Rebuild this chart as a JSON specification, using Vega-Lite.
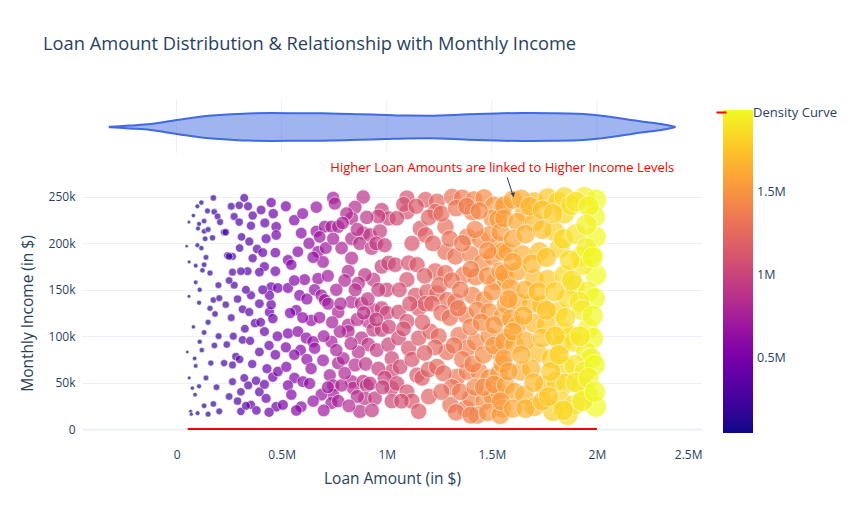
{
  "$schema": "https://vega.github.io/schema/vega-lite/v6.json",
  "width": 620,
  "height": 340,
  "autosize": {"type": "none"},
  "padding": {"left": 82, "top": 100, "right": 153, "bottom": 85},
  "background": "white",
  "title": {
    "text": "Loan Amount Distribution & Relationship with Monthly Income",
    "anchor": "start",
    "frame": "group",
    "dx": -39,
    "offset": 45,
    "fontSize": 18.3,
    "fontWeight": "normal",
    "color": "#2a3f5f"
  },
  "config": {
    "font": "Open Sans",
    "view": {"stroke": null},
    "axis": {
      "labelColor": "#2a3f5f",
      "titleColor": "#2a3f5f",
      "labelFontSize": 12,
      "titleFontSize": 15.5,
      "titleFontWeight": "normal",
      "ticks": false,
      "domain": false
    },
    "axisX": {"grid": false}
  },
  "datasets": {
    "violin": [
      {"loan": -318000, "hi": 0.3, "lo": -0.3},
      {"loan": -270000, "hi": 0.8, "lo": -0.8},
      {"loan": -220000, "hi": 1.5, "lo": -1.5},
      {"loan": -124000, "hi": 3, "lo": -3},
      {"loan": -57000, "hi": 5, "lo": -5},
      {"loan": 0, "hi": 7, "lo": -7},
      {"loan": 67000, "hi": 9, "lo": -9},
      {"loan": 130000, "hi": 10.8, "lo": -10.8},
      {"loan": 206000, "hi": 12, "lo": -12},
      {"loan": 340000, "hi": 13.6, "lo": -13.6},
      {"loan": 450000, "hi": 13.9, "lo": -13.9},
      {"loan": 545000, "hi": 13.8, "lo": -13.8},
      {"loan": 732000, "hi": 13.6, "lo": -13.6},
      {"loan": 870000, "hi": 12.8, "lo": -12.8},
      {"loan": 995000, "hi": 12, "lo": -12},
      {"loan": 1100000, "hi": 11.4, "lo": -11.4},
      {"loan": 1200000, "hi": 11.3, "lo": -11.3},
      {"loan": 1388000, "hi": 12.7, "lo": -12.7},
      {"loan": 1520000, "hi": 13.6, "lo": -13.6},
      {"loan": 1646000, "hi": 14, "lo": -14},
      {"loan": 1780000, "hi": 13.8, "lo": -13.8},
      {"loan": 1909000, "hi": 13.3, "lo": -13.3},
      {"loan": 2043000, "hi": 10.7, "lo": -10.7},
      {"loan": 2110000, "hi": 8.8, "lo": -8.8},
      {"loan": 2172000, "hi": 6.7, "lo": -6.7},
      {"loan": 2240000, "hi": 4.8, "lo": -4.8},
      {"loan": 2306000, "hi": 3, "lo": -3},
      {"loan": 2370000, "hi": 0.3, "lo": -0.3}
    ],
    "vgrid": [
      {"loan": 0}, {"loan": 500000}, {"loan": 1000000}, {"loan": 1500000}, {"loan": 2000000}
    ],
    "curve": [
      {"loan": 53000, "income": 0},
      {"loan": 2000000, "income": 0}
    ],
    "note": [
      {"loan": 1550000, "income": 281000, "label": "Higher Loan Amounts are linked to Higher Income Levels"}
    ],
    "arrow": [
      {"loan": 1573000, "income": 271000, "loan2": 1603000, "income2": 250000}
    ],
    "arrowhead": [
      {"loan": 1602000, "income": 252500}
    ],
    "points": [
      {"loan":175000,"income":249000},{"loan":118000,"income":244000},{"loan":99000,"income":240000},{"loan":147000,"income":235000},{"loan":179000,"income":234000},{"loan":195000,"income":229000},{"loan":59000,"income":223000},{"loan":107000,"income":221000},{"loan":131000,"income":224000},{"loan":207000,"income":223000},{"loan":102000,"income":216000},{"loan":131000,"income":213000},{"loan":226000,"income":212000},{"loan":136000,"income":205000},{"loan":171000,"income":206000},{"loan":48000,"income":197000},{"loan":99000,"income":198000},{"loan":118000,"income":195000},{"loan":91000,"income":176000},{"loan":131000,"income":177000},{"loan":123000,"income":171000},{"loan":159000,"income":168000},{"loan":91000,"income":158000},{"loan":199000,"income":155000},{"loan":59000,"income":143000},{"loan":107000,"income":136000},{"loan":175000,"income":139000},{"loan":203000,"income":141000},{"loan":159000,"income":130000},{"loan":183000,"income":124000},{"loan":234000,"income":134000},{"loan":131000,"income":104000},{"loan":110000,"income":94000},{"loan":51000,"income":83000},{"loan":86000,"income":76000},{"loan":163000,"income":71000},{"loan":91000,"income":68000},{"loan":226000,"income":71000},{"loan":266000,"income":69000},{"loan":282000,"income":78000},{"loan":239000,"income":91000},{"loan":75000,"income":44000},{"loan":107000,"income":46000},{"loan":88000,"income":37000},{"loan":131000,"income":25000},{"loan":175000,"income":27000},{"loan":203000,"income":19000},{"loan":67000,"income":19000},{"loan":70000,"income":16000},
      {"loan":80000,"income":230000},{"loan":150000,"income":215000},{"loan":60000,"income":180000},{"loan":140000,"income":185000},{"loan":110000,"income":150000},{"loan":150000,"income":115000},{"loan":80000,"income":110000},{"loan":200000,"income":100000},{"loan":120000,"income":85000},{"loan":180000,"income":90000},{"loan":140000,"income":55000},{"loan":60000,"income":55000},{"loan":190000,"income":45000},{"loan":100000,"income":17000},{"loan":150000,"income":16000},
      {"loan":322000,"income":249000},{"loan":298000,"income":241000},{"loan":450000,"income":244000},{"loan":402000,"income":236000},{"loan":362000,"income":230000},{"loan":274000,"income":229000},{"loan":298000,"income":223000},{"loan":354000,"income":219000},{"loan":474000,"income":218000},{"loan":234000,"income":212000},{"loan":309000,"income":207000},{"loan":346000,"income":202000},{"loan":426000,"income":205000},{"loan":474000,"income":209000},{"loan":383000,"income":194000},{"loan":242000,"income":187000},{"loan":266000,"income":186000},{"loan":362000,"income":184000},{"loan":418000,"income":175000},{"loan":394000,"income":169000},{"loan":338000,"income":170000},{"loan":306000,"income":170000},{"loan":266000,"income":169000},{"loan":274000,"income":155000},{"loan":450000,"income":153000},{"loan":482000,"income":152000},{"loan":354000,"income":144000},{"loan":394000,"income":135000},{"loan":314000,"income":129000},{"loan":346000,"income":126000},{"loan":442000,"income":126000},{"loan":458000,"income":119000},{"loan":373000,"income":114000},{"loan":325000,"income":108000},{"loan":418000,"income":105000},{"loan":314000,"income":96000},{"loan":394000,"income":83000},{"loan":266000,"income":51000},{"loan":322000,"income":55000},{"loan":378000,"income":52000},{"loan":341000,"income":47000},{"loan":306000,"income":40000},{"loan":394000,"income":40000},{"loan":426000,"income":33000},{"loan":354000,"income":26000},{"loan":306000,"income":19000},{"loan":474000,"income":24000},{"loan":458000,"income":56000},{"loan":482000,"income":62000},{"loan":418000,"income":48000},{"loan":450000,"income":134000},{"loan":442000,"income":144000},{"loan":250000,"income":186000},
      {"loan":260000,"income":240000},{"loan":340000,"income":240000},{"loan":420000,"income":222000},{"loan":460000,"income":232000},{"loan":300000,"income":195000},{"loan":410000,"income":190000},{"loan":470000,"income":190000},{"loan":250000,"income":160000},{"loan":330000,"income":150000},{"loan":410000,"income":150000},{"loan":470000,"income":170000},{"loan":260000,"income":120000},{"loan":290000,"income":140000},{"loan":400000,"income":115000},{"loan":480000,"income":100000},{"loan":270000,"income":100000},{"loan":350000,"income":95000},{"loan":440000,"income":90000},{"loan":300000,"income":75000},{"loan":360000,"income":70000},{"loan":430000,"income":65000},{"loan":470000,"income":80000},{"loan":290000,"income":30000},{"loan":380000,"income":20000},{"loan":440000,"income":18000},{"loan":250000,"income":35000},{"loan":330000,"income":25000},
      {"loan":665000,"income":239000},{"loan":745000,"income":249000},{"loan":753000,"income":243000},{"loan":888000,"income":250000},{"loan":849000,"income":239000},{"loan":833000,"income":227000},{"loan":809000,"income":232000},{"loan":976000,"income":236000},{"loan":1008000,"income":227000},{"loan":960000,"income":229000},{"loan":593000,"income":211000},{"loan":665000,"income":213000},{"loan":705000,"income":218000},{"loan":737000,"income":218000},{"loan":769000,"income":218000},{"loan":681000,"income":207000},{"loan":888000,"income":211000},{"loan":833000,"income":205000},{"loan":872000,"income":200000},{"loan":785000,"income":195000},{"loan":833000,"income":184000},{"loan":920000,"income":209000},{"loan":968000,"income":213000},{"loan":928000,"income":195000},{"loan":577000,"income":191000},{"loan":673000,"income":191000},{"loan":530000,"income":182000},{"loan":546000,"income":177000},{"loan":697000,"income":180000},{"loan":817000,"income":170000},{"loan":976000,"income":175000},{"loan":1008000,"income":179000},{"loan":936000,"income":161000},{"loan":896000,"income":166000},{"loan":865000,"income":157000},{"loan":609000,"income":161000},{"loan":673000,"income":162000},{"loan":657000,"income":150000},{"loan":689000,"income":144000},{"loan":705000,"income":139000},{"loan":530000,"income":152000},{"loan":585000,"income":144000},{"loan":569000,"income":128000},{"loan":721000,"income":135000},{"loan":769000,"income":126000},{"loan":833000,"income":137000},{"loan":880000,"income":135000},{"loan":936000,"income":128000},{"loan":976000,"income":130000},{"loan":1000000,"income":125000},{"loan":641000,"income":117000},{"loan":817000,"income":112000},{"loan":817000,"income":105000},{"loan":777000,"income":105000},{"loan":912000,"income":116000},{"loan":936000,"income":107000},{"loan":976000,"income":107000},{"loan":530000,"income":103000},{"loan":577000,"income":105000},{"loan":617000,"income":98000},{"loan":649000,"income":94000},{"loan":657000,"income":87000},{"loan":737000,"income":94000},{"loan":880000,"income":98000},{"loan":912000,"income":91000},{"loan":952000,"income":85000},{"loan":865000,"income":83000},{"loan":1008000,"income":91000},{"loan":697000,"income":74000},{"loan":769000,"income":71000},{"loan":793000,"income":76000},{"loan":849000,"income":69000},{"loan":1024000,"income":76000},{"loan":1024000,"income":62000},{"loan":522000,"income":67000},{"loan":561000,"income":55000},{"loan":530000,"income":47000},{"loan":601000,"income":51000},{"loan":633000,"income":49000},{"loan":729000,"income":58000},{"loan":745000,"income":47000},{"loan":745000,"income":37000},{"loan":689000,"income":37000},{"loan":546000,"income":37000},{"loan":593000,"income":24000},{"loan":737000,"income":28000},{"loan":769000,"income":30000},{"loan":833000,"income":51000},{"loan":841000,"income":44000},{"loan":888000,"income":51000},{"loan":904000,"income":47000},{"loan":920000,"income":49000},{"loan":896000,"income":33000},{"loan":944000,"income":33000},{"loan":872000,"income":19000},{"loan":785000,"income":47000},{"loan":1024000,"income":44000},{"loan":1024000,"income":30000},{"loan":506000,"income":26000},
      {"loan":520000,"income":240000},{"loan":560000,"income":225000},{"loan":600000,"income":232000},{"loan":630000,"income":200000},{"loan":650000,"income":185000},{"loan":710000,"income":195000},{"loan":745000,"income":205000},{"loan":790000,"income":222000},{"loan":860000,"income":215000},{"loan":905000,"income":228000},{"loan":950000,"income":200000},{"loan":990000,"income":198000},{"loan":1000000,"income":150000},{"loan":960000,"income":150000},{"loan":910000,"income":140000},{"loan":850000,"income":150000},{"loan":800000,"income":160000},{"loan":760000,"income":150000},{"loan":720000,"income":165000},{"loan":620000,"income":140000},{"loan":560000,"income":160000},{"loan":600000,"income":120000},{"loan":680000,"income":120000},{"loan":740000,"income":115000},{"loan":860000,"income":118000},{"loan":890000,"income":125000},{"loan":950000,"income":118000},{"loan":1010000,"income":110000},{"loan":540000,"income":125000},{"loan":590000,"income":85000},{"loan":620000,"income":75000},{"loan":700000,"income":100000},{"loan":760000,"income":85000},{"loan":830000,"income":92000},{"loan":900000,"income":70000},{"loan":960000,"income":65000},{"loan":990000,"income":55000},{"loan":560000,"income":80000},{"loan":640000,"income":65000},{"loan":720000,"income":45000},{"loan":800000,"income":60000},{"loan":860000,"income":35000},{"loan":930000,"income":20000},{"loan":980000,"income":45000},{"loan":650000,"income":30000},{"loan":700000,"income":20000},{"loan":820000,"income":25000},{"loan":570000,"income":20000},{"loan":520000,"income":88000},{"loan":780000,"income":135000},
      {"loan":1096000,"income":249000},{"loan":1184000,"income":247000},{"loan":1239000,"income":245000},{"loan":1311000,"income":250000},{"loan":1359000,"income":249000},{"loan":1415000,"income":247000},{"loan":1463000,"income":249000},{"loan":1510000,"income":241000},{"loan":1550000,"income":238000},{"loan":1096000,"income":234000},{"loan":1231000,"income":234000},{"loan":1407000,"income":234000},{"loan":1502000,"income":227000},{"loan":1160000,"income":216000},{"loan":1184000,"income":209000},{"loan":1279000,"income":218000},{"loan":1383000,"income":207000},{"loan":1447000,"income":204000},{"loan":1534000,"income":198000},{"loan":1487000,"income":209000},{"loan":1048000,"income":227000},{"loan":1279000,"income":191000},{"loan":1327000,"income":186000},{"loan":1399000,"income":188000},{"loan":1455000,"income":179000},{"loan":1502000,"income":186000},{"loan":1550000,"income":191000},{"loan":1040000,"income":177000},{"loan":1104000,"income":179000},{"loan":1144000,"income":177000},{"loan":1096000,"income":161000},{"loan":1231000,"income":170000},{"loan":1279000,"income":168000},{"loan":1367000,"income":166000},{"loan":1423000,"income":164000},{"loan":1518000,"income":159000},{"loan":1566000,"income":161000},{"loan":1136000,"income":144000},{"loan":1192000,"income":148000},{"loan":1239000,"income":146000},{"loan":1287000,"income":139000},{"loan":1327000,"income":137000},{"loan":1407000,"income":144000},{"loan":1463000,"income":139000},{"loan":1502000,"income":148000},{"loan":1056000,"income":126000},{"loan":1096000,"income":116000},{"loan":1152000,"income":130000},{"loan":1184000,"income":135000},{"loan":1215000,"income":135000},{"loan":1375000,"income":123000},{"loan":1431000,"income":128000},{"loan":1487000,"income":126000},{"loan":1550000,"income":121000},{"loan":1566000,"income":134000},{"loan":1056000,"income":98000},{"loan":1104000,"income":87000},{"loan":1152000,"income":98000},{"loan":1207000,"income":105000},{"loan":1247000,"income":100000},{"loan":1287000,"income":83000},{"loan":1343000,"income":101000},{"loan":1383000,"income":87000},{"loan":1423000,"income":94000},{"loan":1487000,"income":100000},{"loan":1534000,"income":83000},{"loan":1566000,"income":98000},{"loan":1064000,"income":67000},{"loan":1048000,"income":49000},{"loan":1096000,"income":40000},{"loan":1144000,"income":58000},{"loan":1168000,"income":55000},{"loan":1199000,"income":64000},{"loan":1239000,"income":67000},{"loan":1335000,"income":56000},{"loan":1383000,"income":62000},{"loan":1439000,"income":62000},{"loan":1487000,"income":55000},{"loan":1534000,"income":60000},{"loan":1120000,"income":30000},{"loan":1152000,"income":19000},{"loan":1303000,"income":26000},{"loan":1375000,"income":22000},{"loan":1399000,"income":33000},{"loan":1463000,"income":30000},{"loan":1502000,"income":35000},{"loan":1534000,"income":40000},{"loan":1550000,"income":22000},{"loan":1431000,"income":15000},
      {"loan":1080000,"income":242000},{"loan":1140000,"income":240000},{"loan":1200000,"income":228000},{"loan":1260000,"income":232000},{"loan":1330000,"income":238000},{"loan":1380000,"income":240000},{"loan":1440000,"income":235000},{"loan":1530000,"income":226000},{"loan":1120000,"income":200000},{"loan":1220000,"income":200000},{"loan":1300000,"income":205000},{"loan":1360000,"income":200000},{"loan":1420000,"income":215000},{"loan":1480000,"income":192000},{"loan":1540000,"income":212000},{"loan":1060000,"income":150000},{"loan":1180000,"income":165000},{"loan":1250000,"income":155000},{"loan":1310000,"income":160000},{"loan":1350000,"income":150000},{"loan":1400000,"income":172000},{"loan":1480000,"income":165000},{"loan":1540000,"income":170000},{"loan":1110000,"income":135000},{"loan":1260000,"income":125000},{"loan":1300000,"income":120000},{"loan":1340000,"income":130000},{"loan":1400000,"income":110000},{"loan":1450000,"income":115000},{"loan":1510000,"income":112000},{"loan":1080000,"income":108000},{"loan":1170000,"income":115000},{"loan":1230000,"income":88000},{"loan":1320000,"income":90000},{"loan":1360000,"income":75000},{"loan":1410000,"income":70000},{"loan":1460000,"income":80000},{"loan":1510000,"income":90000},{"loan":1550000,"income":70000},{"loan":1120000,"income":75000},{"loan":1180000,"income":82000},{"loan":1270000,"income":60000},{"loan":1310000,"income":45000},{"loan":1350000,"income":40000},{"loan":1420000,"income":45000},{"loan":1460000,"income":45000},{"loan":1510000,"income":48000},{"loan":1070000,"income":30000},{"loan":1200000,"income":35000},{"loan":1260000,"income":40000},{"loan":1330000,"income":18000},{"loan":1400000,"income":15000},{"loan":1480000,"income":18000},{"loan":1540000,"income":15000},
      {"loan":1558000,"income":241000},{"loan":1654000,"income":234000},{"loan":1702000,"income":245000},{"loan":1766000,"income":249000},{"loan":1814000,"income":245000},{"loan":1845000,"income":250000},{"loan":1941000,"income":250000},{"loan":1995000,"income":247000},{"loan":1989000,"income":229000},{"loan":1993000,"income":207000},{"loan":1558000,"income":227000},{"loan":1622000,"income":223000},{"loan":1702000,"income":223000},{"loan":1798000,"income":213000},{"loan":1845000,"income":232000},{"loan":1877000,"income":241000},{"loan":1574000,"income":191000},{"loan":1646000,"income":188000},{"loan":1726000,"income":191000},{"loan":1822000,"income":195000},{"loan":1925000,"income":186000},{"loan":1973000,"income":188000},{"loan":1995000,"income":166000},{"loan":1933000,"income":177000},{"loan":1558000,"income":168000},{"loan":1622000,"income":170000},{"loan":1702000,"income":162000},{"loan":1766000,"income":161000},{"loan":1845000,"income":166000},{"loan":1893000,"income":155000},{"loan":1957000,"income":148000},{"loan":1989000,"income":141000},{"loan":1590000,"income":152000},{"loan":1622000,"income":137000},{"loan":1686000,"income":135000},{"loan":1734000,"income":134000},{"loan":1814000,"income":126000},{"loan":1861000,"income":141000},{"loan":1917000,"income":137000},{"loan":1590000,"income":119000},{"loan":1622000,"income":112000},{"loan":1702000,"income":114000},{"loan":1758000,"income":112000},{"loan":1837000,"income":105000},{"loan":1877000,"income":101000},{"loan":1957000,"income":108000},{"loan":1981000,"income":98000},{"loan":1558000,"income":94000},{"loan":1606000,"income":91000},{"loan":1718000,"income":82000},{"loan":1782000,"income":76000},{"loan":1829000,"income":91000},{"loan":1893000,"income":94000},{"loan":1949000,"income":83000},{"loan":1973000,"income":76000},{"loan":1558000,"income":76000},{"loan":1638000,"income":62000},{"loan":1686000,"income":65000},{"loan":1845000,"income":67000},{"loan":1893000,"income":69000},{"loan":1941000,"income":62000},{"loan":1989000,"income":69000},{"loan":1566000,"income":47000},{"loan":1606000,"income":40000},{"loan":1654000,"income":37000},{"loan":1750000,"income":47000},{"loan":1806000,"income":51000},{"loan":1853000,"income":49000},{"loan":1925000,"income":47000},{"loan":1957000,"income":37000},{"loan":1702000,"income":24000},{"loan":1790000,"income":19000},{"loan":1829000,"income":30000},{"loan":1861000,"income":15000},{"loan":1893000,"income":26000},{"loan":1995000,"income":24000},{"loan":1542000,"income":30000},
      {"loan":1600000,"income":247000},{"loan":1640000,"income":248000},{"loan":1680000,"income":240000},{"loan":1740000,"income":236000},{"loan":1790000,"income":232000},{"loan":1900000,"income":245000},{"loan":1960000,"income":240000},{"loan":1600000,"income":205000},{"loan":1660000,"income":210000},{"loan":1740000,"income":215000},{"loan":1840000,"income":205000},{"loan":1900000,"income":210000},{"loan":1950000,"income":220000},{"loan":1600000,"income":180000},{"loan":1690000,"income":178000},{"loan":1760000,"income":185000},{"loan":1870000,"income":182000},{"loan":1950000,"income":195000},{"loan":1980000,"income":185000},{"loan":1580000,"income":140000},{"loan":1660000,"income":150000},{"loan":1720000,"income":148000},{"loan":1800000,"income":148000},{"loan":1880000,"income":160000},{"loan":1930000,"income":128000},{"loan":1980000,"income":122000},{"loan":1650000,"income":122000},{"loan":1760000,"income":128000},{"loan":1850000,"income":120000},{"loan":1600000,"income":105000},{"loan":1660000,"income":95000},{"loan":1740000,"income":98000},{"loan":1800000,"income":100000},{"loan":1920000,"income":100000},{"loan":1580000,"income":62000},{"loan":1640000,"income":80000},{"loan":1700000,"income":50000},{"loan":1780000,"income":62000},{"loan":1820000,"income":80000},{"loan":1900000,"income":50000},{"loan":1960000,"income":55000},{"loan":1600000,"income":22000},{"loan":1660000,"income":22000},{"loan":1740000,"income":30000},{"loan":1770000,"income":35000},{"loan":1840000,"income":20000},{"loan":1930000,"income":30000},{"loan":1990000,"income":40000}
    ]
  },
  "layer": [
    {
      "layer": [
        {
          "data": {"name": "vgrid"},
          "mark": {"type": "rule", "color": "#ebf0f8", "strokeWidth": 1},
          "encoding": {
            "x": {"field": "loan", "type": "quantitative", "scale": {"domain": [-450000, 2500000], "nice": false, "zero": false}},
            "y": {"datum": 27, "type": "quantitative", "scale": {"domain": [-313, 27], "nice": false, "zero": false}, "axis": null},
            "y2": {"datum": -26}
          }
        },
        {
          "data": {"name": "violin"},
          "mark": {"type": "area", "color": "royalblue", "fillOpacity": 0.5, "stroke": "royalblue", "strokeWidth": 2, "interpolate": "monotone"},
          "encoding": {
            "x": {"field": "loan", "type": "quantitative", "scale": {"domain": [-450000, 2500000], "nice": false, "zero": false}},
            "y": {"field": "hi", "type": "quantitative", "scale": {"domain": [-313, 27], "nice": false, "zero": false}, "axis": null},
            "y2": {"field": "lo"}
          }
        }
      ]
    },
    {
      "layer": [
        {
          "data": {"name": "points"},
          "mark": {"type": "circle", "fillOpacity": 0.7, "strokeOpacity": 0.8, "stroke": "white", "strokeWidth": 0.7},
          "encoding": {
            "x": {
              "field": "loan", "type": "quantitative",
              "scale": {"domain": [-450000, 2500000], "nice": false, "zero": false},
              "title": "Loan Amount (in $)",
              "axis": {
                "values": [0, 500000, 1000000, 1500000, 2000000, 2500000],
                "labelExpr": "datum.value == 0 ? '0' : format(datum.value / 1000000, '~g') + 'M'",
                "labelPadding": 9,
                "titlePadding": 11
              }
            },
            "y": {
              "field": "income", "type": "quantitative",
              "scale": {"domain": [-11850, 354500], "nice": false, "zero": false},
              "title": "Monthly Income (in $)",
              "axis": {
                "orient": "left",
                "values": [0, 50000, 100000, 150000, 200000, 250000],
                "labelExpr": "datum.value == 0 ? '0' : format(datum.value / 1000, '~g') + 'k'",
                "grid": true,
                "gridColor": "#ebf0f8",
                "gridWidth": {"condition": {"test": "datum.value === 0", "value": 2}, "value": 1},
                "labelPadding": 7,
                "titlePadding": 13,
                "titleY": 213
              }
            },
            "color": {
              "field": "loan", "type": "quantitative",
              "scale": {"scheme": "plasma", "domain": [48000, 1995000]},
              "legend": {
                "title": null,
                "orient": "none",
                "legendX": 641,
                "legendY": 10,
                "padding": 0,
                "direction": "vertical",
                "gradientLength": 323,
                "gradientThickness": 30,
                "gradientStrokeWidth": 0,
                "values": [500000, 1000000, 1500000],
                "labelExpr": "format(datum.value / 1000000, '~g') + 'M'",
                "labelFontSize": 12.5,
                "labelColor": "#2a3f5f",
                "labelOffset": 4
              }
            },
            "size": {
              "field": "loan", "type": "quantitative",
              "scale": {"domain": [0, 2000000], "range": [0, 460], "zero": true},
              "legend": null
            }
          }
        },
        {
          "data": {"name": "curve"},
          "mark": {"type": "line", "strokeWidth": 2},
          "encoding": {
            "x": {"field": "loan", "type": "quantitative"},
            "y": {"field": "income", "type": "quantitative"},
            "stroke": {
              "datum": "Density Curve", "type": "nominal",
              "scale": {"domain": ["Density Curve"], "range": ["red"]},
              "legend": {
                "title": null,
                "orient": "none",
                "legendX": 633,
                "legendY": 6,
                "padding": 0,
                "symbolType": "stroke",
                "symbolSize": 100,
                "symbolStrokeWidth": 2,
                "labelFontSize": 13,
                "labelColor": "#2a3f5f",
                "labelOffset": 25
              }
            }
          }
        },
        {
          "data": {"name": "note"},
          "mark": {"type": "text", "color": "red", "fontSize": 13, "align": "center", "baseline": "middle"},
          "encoding": {
            "x": {"field": "loan", "type": "quantitative"},
            "y": {"field": "income", "type": "quantitative"},
            "text": {"field": "label"}
          }
        },
        {
          "data": {"name": "arrow"},
          "mark": {"type": "rule", "color": "#2a3f5f", "strokeWidth": 1},
          "encoding": {
            "x": {"field": "loan", "type": "quantitative"},
            "y": {"field": "income", "type": "quantitative"},
            "x2": {"field": "loan2"},
            "y2": {"field": "income2"}
          }
        },
        {
          "data": {"name": "arrowhead"},
          "mark": {"type": "point", "shape": "triangle-down", "filled": true, "color": "#2a3f5f", "size": 22, "angle": -17, "opacity": 1},
          "encoding": {
            "x": {"field": "loan", "type": "quantitative"},
            "y": {"field": "income", "type": "quantitative"}
          }
        }
      ]
    }
  ],
  "resolve": {"scale": {"y": "independent"}, "axis": {"y": "independent"}}
}
